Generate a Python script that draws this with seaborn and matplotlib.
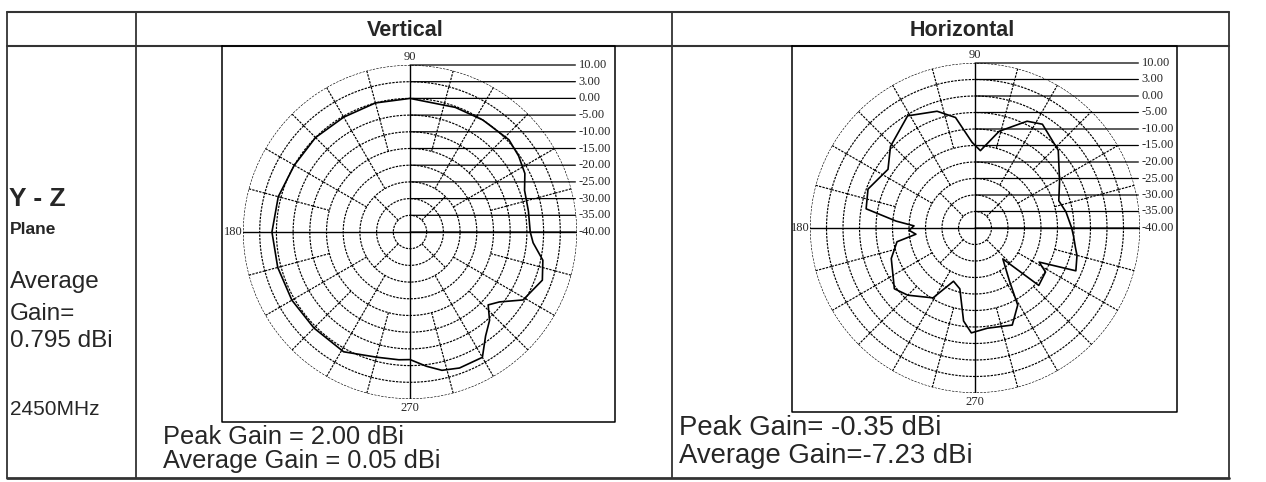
import numpy as np
import pandas as pd
import matplotlib
matplotlib.use("Agg")
import matplotlib.pyplot as plt
import seaborn as sns

sns.set_theme(style="white")
plt.rcParams['font.family'] = ['Liberation Sans', 'DejaVu Sans']

# ring levels of the polar grid (dB), equally spaced on the chart
ring_levels = [-40, -35, -30, -25, -20, -15, -10, -5, 0, 3, 10]
ring_labels = ["-40.00", "-35.00", "-30.00", "-25.00", "-20.00", "-15.00",
               "-10.00", "-5.00", "0.00", "3.00", "10.00"]

# Vertical polarisation pattern (angle in deg, gain in dB)
vert_angle = [0, 10, 20, 27, 35, 43, 57, 70, 90, 105, 120, 135, 150, 165, 180,
              195, 210, 225, 241, 255, 265, 270, 277, 283, 290, 300, 306, 312,
              317, 322, 329, 340, 348, 355, 360]
vert_db = [-4, -4, -3.5, -1.4, -0.3, 0.3, 0, -0.3, 0, 0, -0.3, 0, 0, 0.5, 0.8,
           0.6, 0.5, 0.4, 0.6, -1.2, -1.6, -1.8, 0.3, 1.5, 2.0, 2.0, -1.5, -4.4,
           -8, -6, -0.5, 1.3, 0.4, -3, -4]

# Horizontal polarisation pattern
hor_angle = [0, 10, 18, 29, 43, 57, 64, 76, 86, 92, 100, 108, 121, 136, 146,
             160, 170, 175, 178, 182, 186, 190, 200, 217, 225, 239, 248, 256,
             263, 268, 277, 291, 299, 303, 312, 318, 328, 332, 337, 345, 349,
             355, 360]
hor_db = [-10.7, -12, -13.3, -10.7, -5.5, -2.5, -4, -9.8, -16.5, -14, -6, -2.8,
          -0.35, -4.4, -8.2, -5.5, -6.5, -16, -21.5, -20, -22, -16, -13, -9.4,
          -11.2, -15.3, -22.6, -21, -11.6, -8.2, -9.4, -8.5, -13.3, -20.8,
          -27.4, -14, -14.8, -18, -6.8, -8, -9, -10, -10.7]

col_headers = ["Vertical", "Horizontal"]
left_lines = ["Average", "Gain=", "0.795 dBi"]
freq_label = "2450MHz"
peak_texts = ["Peak Gain = 2.00 dBi", "Peak Gain= -0.35 dBi"]
avg_texts = ["Average Gain = 0.05 dBi", "Average Gain=-7.23 dBi"]

W, H = 1266, 482
fig = plt.figure(figsize=(W / 100, H / 100), dpi=100)
fig.patch.set_facecolor("white")

base = fig.add_axes([0, 0, 1, 1])
base.set_xlim(0, W)
base.set_ylim(H, 0)
base.axis("off")

tcol = "#333333"
# table frame
base.plot([7, 1229], [12, 12], color=tcol, lw=1.5)
base.plot([7, 1229], [46, 46], color=tcol, lw=1.5)
base.plot([7, 1229], [478, 478], color=tcol, lw=2)
for x in [7, 136, 672, 1229]:
    base.plot([x, x], [12, 478], color=tcol, lw=1.3)

base.text(405, 36, col_headers[0], fontsize=15.5, fontweight="bold", ha="center", va="baseline")
base.text(962, 36, col_headers[1], fontsize=15.5, fontweight="bold", ha="center", va="baseline")

base.text(9, 206, "Y - Z", fontsize=19, fontweight="bold", va="baseline")
base.text(10, 234, "Plane", fontsize=12.5, fontweight="bold", va="baseline")
for txt, yb in zip(left_lines, [288, 320, 347]):
    base.text(10, yb, txt, fontsize=17.5, va="baseline")
base.text(10, 415, freq_label, fontsize=15, va="baseline")

# boxes around the polar charts
boxes = [(222, 46, 615, 422), (792, 46, 1177, 412)]
for x0, y0, x1, y1 in boxes:
    base.plot([x0, x1, x1, x0, x0], [y0, y0, y1, y1, y0], color="black", lw=1.1)

base.text(163, 444, peak_texts[0], fontsize=18.3, va="baseline")
base.text(163, 468, avg_texts[0], fontsize=18.3, va="baseline")
base.text(679, 435, peak_texts[1], fontsize=19.8, va="baseline")
base.text(679, 463, avg_texts[1], fontsize=19.8, va="baseline")

idx = np.arange(len(ring_levels))


def to_r(db):
    return np.interp(db, ring_levels, idx)


# annulus spoke spacing (deg) from the centre outward
spoke_step = [90, 45, 45, 30, 30, 15, 15, 15, 15, 15]


def polar_panel(cx, cy, R, angles, dbs):
    ax = fig.add_axes([(cx - R) / W, (H - (cy + R)) / H, 2 * R / W, 2 * R / H],
                      projection="polar")
    ax.set_ylim(0, 10)
    ax.axis("off")
    th = np.linspace(0, 2 * np.pi, 361)
    dash = (0, (2.0, 1.0))
    for k in range(1, 11):
        ax.plot(th, np.full_like(th, k), color="black", lw=0.85, ls=dash)
    for k, step in enumerate(spoke_step):
        for a in np.arange(0, 360, step):
            if a % 90 == 0:
                continue
            t = np.deg2rad(a)
            ax.plot([t, t], [k, k + 1], color="black", lw=0.85, ls=dash)
    for a in [0, 90, 180, 270]:
        t = np.deg2rad(a)
        ax.plot([t, t], [0, 10], color="black", lw=1.0)
    for k, lab in enumerate(ring_labels):
        ax.annotate(lab, xy=(np.pi / 2, k), xytext=(1.005, 0.5 + 0.05 * k),
                    textcoords="axes fraction", ha="left", va="center",
                    fontsize=9, family="Liberation Serif",
                    arrowprops=dict(arrowstyle="-", lw=0.9, color="black",
                                    shrinkA=0, shrinkB=0))
    ax.text(0.5, 1.025, "90", transform=ax.transAxes, ha="center", va="center",
            fontsize=9, family="Liberation Serif")
    ax.text(0.5, -0.028, "270", transform=ax.transAxes, ha="center", va="center",
            fontsize=9, family="Liberation Serif")
    ax.text(-0.002, 0.5, "180", transform=ax.transAxes, ha="right", va="center",
            fontsize=9, family="Liberation Serif")
    df = pd.DataFrame({"theta": np.deg2rad(angles), "r": to_r(dbs)})
    sns.lineplot(data=df, x="theta", y="r", ax=ax, sort=False, estimator=None,
                 color="black", lw=1.2)
    ax.set_ylim(0, 10)
    return ax


polar_panel(410, 232, 167, vert_angle, vert_db)
polar_panel(975, 228, 165, hor_angle, hor_db)

fig.savefig("out.png", dpi=100, facecolor="white")
